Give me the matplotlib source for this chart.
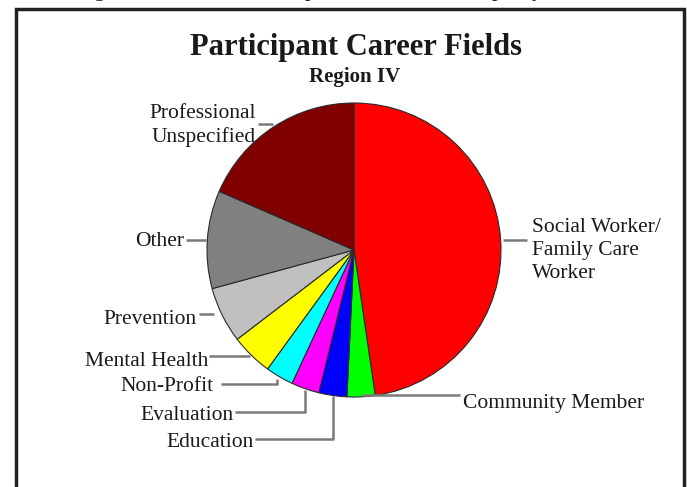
import matplotlib
matplotlib.use('Agg')
import matplotlib.pyplot as plt

# data (counts, clockwise from 12 o'clock)
categories = ['Social Worker/\nFamily Care\nWorker', 'Community Member', 'Education',
              'Evaluation', 'Non-Profit', 'Mental Health', 'Prevention', 'Other',
              'Professional\nUnspecified']
counts = [31, 2, 2, 2, 2, 3, 4, 7, 12]
colors = ['#FF0000', '#00FF00', '#0000FF', '#FF00FF', '#00FFFF', '#FFFF00',
          '#C0C0C0', '#808080', '#800000']

title = 'Participant Career Fields'
subtitle = 'Region IV'

W, H = 687, 487
fig = plt.figure(figsize=(W / 100, H / 100), dpi=100)
ax = fig.add_axes([0, 0, 1, 1])

def Y(y):
    # pixel row (from top) -> data y
    return H - y

cx, cy, r = 354, 250, 147
ax.pie(counts, colors=colors, startangle=90, counterclock=False,
       center=(cx, Y(cy)), radius=r, frame=True,
       wedgeprops=dict(edgecolor='#2a2a2a', linewidth=0.8))

ax.set_xlim(0, W)
ax.set_ylim(0, H)
ax.set_aspect('auto')
ax.axis('off')

serif = 'Liberation Serif'
txt = dict(family=serif, color='#1a1a1a', fontsize=15.5)

# labels: (text x, last-line baseline y, ha, leader path in pixels)
label_layout = {
    'Social Worker/\nFamily Care\nWorker': (532, 278, 'left', [(503, 240), (527, 240)]),
    'Community Member': (463, 408, 'left', [(362, 395), (460, 395)]),
    'Education': (254, 447, 'right', [(333, 396), (333, 439), (255, 439)]),
    'Evaluation': (234, 420, 'right', [(305, 390), (305, 412), (235, 412)]),
    'Non-Profit': (214, 391, 'right', [(277, 379), (277, 384), (221, 384)]),
    'Mental Health': (208, 366, 'right', [(250, 356), (209, 356)]),
    'Prevention': (197, 324, 'right', [(214, 314), (199, 314)]),
    'Other': (184, 246, 'right', [(206, 240), (186, 240)]),
    'Professional\nUnspecified': (256, 142, 'right', [(273, 124), (258, 124)]),
}

for name in categories:
    x, y, ha, path = label_layout[name]
    ax.plot([p[0] for p in path], [Y(p[1]) for p in path], color='#7a7a7a',
            lw=1.8, solid_capstyle='butt', zorder=1)
    ax.text(x, Y(y), name, ha=ha, va='baseline', linespacing=1.3, **txt)

ax.text(356, Y(55), title, ha='center', va='baseline', family=serif,
        fontweight='bold', fontsize=22, color='#1a1a1a')
ax.text(355, Y(82), subtitle, ha='center', va='baseline', family=serif,
        fontweight='bold', fontsize=15, color='#1a1a1a')

# frame around the chart (bottom edge falls outside the image)
ax.plot([16, 16, 684, 684], [0, Y(9), Y(9), 0], color='#222222', lw=2.5,
        solid_joinstyle='miter', clip_on=False)

# descenders of the text line above, cut off by the image edge
for gx, g in [(100, 'g'), (310, 'p'), (497, 'p'), (537, 'y')]:
    ax.text(gx, H + 4, g, ha='center', va='baseline', family=serif,
            fontsize=16, color='#1a1a1a', clip_on=False)

fig.savefig('out.png', dpi=100)
